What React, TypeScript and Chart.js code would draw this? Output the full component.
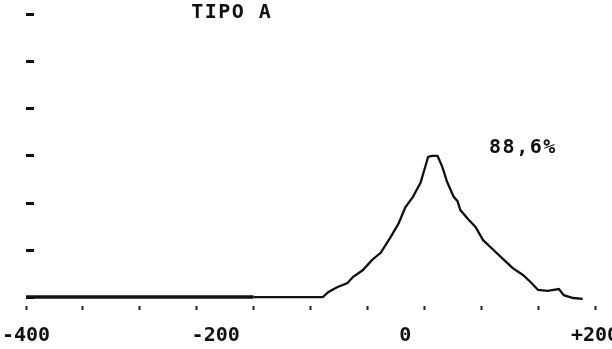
import React, { useEffect, useRef } from "react";
import { Chart, registerables } from "chart.js";

Chart.register(...registerables);

// Curve (x in the axis units, y in units of the vertical dash marks)
const curveX = [-400, -160, -87, -81, -72, -61, -55, -45, -35, -26, -16, -7, 0, 8, 16, 21, 24, 28, 34, 39, 44, 51, 55, 58, 67, 74, 82, 93, 104, 113, 124, 132, 140, 150, 162, 167, 177, 187];
const curveY = [0, 0, 0, 0.11, 0.21, 0.3, 0.43, 0.57, 0.79, 0.94, 1.26, 1.57, 1.91, 2.13, 2.43, 2.77, 2.98, 3.0, 3.0, 2.77, 2.45, 2.13, 2.04, 1.85, 1.64, 1.49, 1.21, 1.0, 0.79, 0.62, 0.47, 0.32, 0.15, 0.13, 0.17, 0.04, -0.02, -0.04];

// Axis marks
const xTickMarks = [-400, -340, -280, -220, -160, -100, -40, 20, 80, 140, 200];
const xLabelValues = [-400, -200, 0, 200];
const xLabelTexts = ["-400", "-200", "0", "+200"];
const yDashValues = [0, 1, 2, 3, 4, 5, 6];

// Text annotations (placed in data coordinates)
const noteTexts = ["TIPO A", "88,6%"];
const noteX = [-183, 124];
const noteY = [6.05, 3.17];

const X_MIN = -400;
const X_MAX = 200;
const Y_MIN = -0.19;
const Y_MAX = 6.21;

export default function App() {
  const canvasRef = useRef<HTMLCanvasElement | null>(null);

  useEffect(() => {
    const canvas = canvasRef.current;
    if (!canvas) return;

    const notesPlugin = {
      id: "notes",
      afterDraw(chart: any) {
        const { ctx, scales } = chart;
        ctx.save();
        ctx.fillStyle = "#111";
        ctx.font = "bold 20px 'DejaVu Sans Mono', monospace";
        try {
          (ctx as any).letterSpacing = "1.5px";
        } catch (e) {}
        ctx.textAlign = "center";
        ctx.textBaseline = "middle";
        noteTexts.forEach((t, i) => {
          ctx.fillText(t, scales.x.getPixelForValue(noteX[i]), scales.y.getPixelForValue(noteY[i]));
        });
        ctx.restore();
      },
    };

    const chart = new Chart(canvas, {
      type: "line",
      data: {
        datasets: [
          {
            data: curveX.map((x, i) => ({ x, y: curveY[i] })),
            borderColor: "#111",
            borderWidth: 2.3,
            pointRadius: 0,
            tension: 0,
            fill: false,
            xAxisID: "x",
            yAxisID: "y",
            segment: {
              borderWidth: (c: any) => (c.p0DataIndex === 0 ? 3.6 : 2.3),
            },
          },
        ],
      },
      options: {
        animation: false,
        responsive: false,
        devicePixelRatio: 1,
        layout: { padding: { left: 26, right: 17, top: 5, bottom: 0 } },
        plugins: {
          legend: { display: false },
          tooltip: { enabled: false },
          title: { display: false },
        },
        scales: {
          x: {
            type: "linear",
            position: "bottom",
            min: X_MIN,
            max: X_MAX,
            afterBuildTicks: (s: any) => {
              s.ticks = xTickMarks.map((v) => ({ value: v }));
            },
            afterFit: (s: any) => {
              s.height = 6;
              s.paddingLeft = 0;
              s.paddingRight = 0;
            },
            ticks: { display: false },
            grid: {
              display: true,
              drawOnChartArea: false,
              drawTicks: true,
              tickLength: 4,
              tickWidth: 2,
              tickColor: "#222",
            },
            border: { display: false },
          },
          x2: {
            type: "linear",
            position: "bottom",
            min: X_MIN,
            max: X_MAX,
            afterBuildTicks: (s: any) => {
              s.ticks = xLabelValues.map((v) => ({ value: v }));
            },
            afterFit: (s: any) => {
              s.height = 37;
              s.paddingLeft = 0;
              s.paddingRight = 0;
            },
            ticks: {
              display: true,
              autoSkip: false,
              maxRotation: 0,
              minRotation: 0,
              padding: 12,
              color: "#111",
              font: { family: "'DejaVu Sans Mono', monospace", size: 20, weight: "bold" },
              callback: (v: any) => {
                const i = xLabelValues.indexOf(Number(v));
                return i >= 0 ? xLabelTexts[i] : "";
              },
            },
            grid: { display: false, drawTicks: false },
            border: { display: false },
          },
          y: {
            type: "linear",
            position: "left",
            min: Y_MIN,
            max: Y_MAX,
            afterBuildTicks: (s: any) => {
              s.ticks = yDashValues.map((v) => ({ value: v }));
            },
            afterFit: (s: any) => {
              s.width = 0;
            },
            ticks: { display: false },
            grid: {
              display: true,
              drawOnChartArea: true,
              drawTicks: false,
              color: "#111",
              lineWidth: 3,
            },
            border: { display: false, dash: [8, 4000] },
          },
        },
      },
      plugins: [notesPlugin],
    } as any);

    return () => {
      chart.destroy();
    };
  }, []);

  return (
    <div
      style={{
        position: "fixed",
        left: 0,
        top: 0,
        width: 612,
        height: 349,
        background: "#fff",
      }}
    >
      <canvas ref={canvasRef} width={612} height={349} style={{ display: "block" }} />
    </div>
  );
}
